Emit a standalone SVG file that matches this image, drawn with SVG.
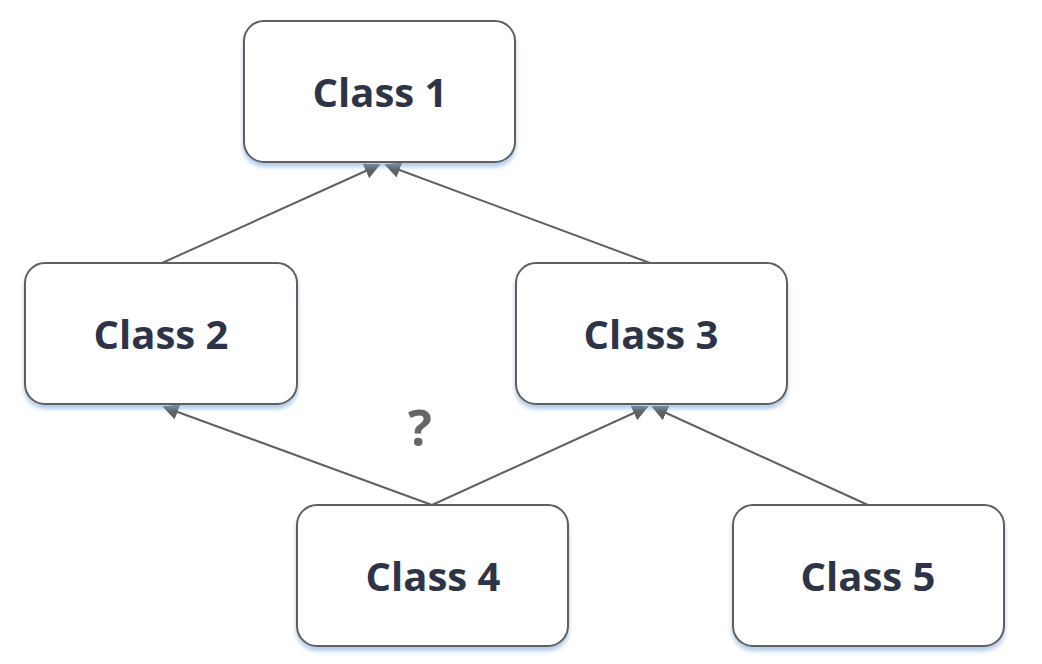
<svg xmlns="http://www.w3.org/2000/svg" width="1042" height="664" viewBox="0 0 1042 664">
<defs>
<style>
.n rect{fill:#fff;stroke:#5f5f5f;stroke-width:2}
.n text{font-family:"Open Sans","DejaVu Sans",sans-serif;font-weight:bold;font-size:40px;fill:#2e3448;text-anchor:middle}
.e line{stroke:#606060;stroke-width:2;marker-end:url(#a)}
</style>
<marker id="a" viewBox="0 0 10 10" refX="9" refY="5" markerWidth="8" markerHeight="8" markerUnits="userSpaceOnUse" orient="auto"><path d="M0,0L10,5L0,10z" fill="#606060"/></marker>
<marker id="b" viewBox="0 0 10 10" refX="9" refY="5" markerWidth="16" markerHeight="16" markerUnits="userSpaceOnUse" orient="auto"><path d="M0,0L10,5L0,10z" fill="#606060"/></marker>
<filter id="s" x="-10%" y="-10%" width="120%" height="130%"><feDropShadow dx="0" dy="4" stdDeviation="2" flood-color="#7fa8d8" flood-opacity="0.6"/></filter>
</defs>
<style>.e line{marker-end:url(#b)}</style>
<g class="e">
<line x1="162" y1="263" x2="379" y2="165"/>
<line x1="650" y1="263" x2="386" y2="165"/>
<line x1="432" y1="505" x2="164" y2="407"/>
<line x1="432" y1="505" x2="647" y2="407"/>
<line x1="868" y1="505" x2="653" y2="407"/>
</g>
<g id="class1" class="n"><rect x="244" y="21" width="271" height="141" rx="20" filter="url(#s)"/><text x="380" y="107">Class 1</text></g>
<g id="class2" class="n"><rect x="25" y="263" width="272" height="141" rx="20" filter="url(#s)"/><text x="161" y="349">Class 2</text></g>
<g id="class3" class="n"><rect x="516" y="263" width="271" height="141" rx="20" filter="url(#s)"/><text x="651" y="349">Class 3</text></g>
<g id="class4" class="n"><rect x="297" y="505" width="271" height="141" rx="20" filter="url(#s)"/><text x="433" y="591">Class 4</text></g>
<g id="class5" class="n"><rect x="733" y="505" width="271" height="141" rx="20" filter="url(#s)"/><text x="868" y="591">Class 5</text></g>
<text x="420" y="446" font-family="Open Sans,DejaVu Sans,sans-serif" font-weight="bold" font-size="50" fill="#666" text-anchor="middle">?</text>
</svg>
